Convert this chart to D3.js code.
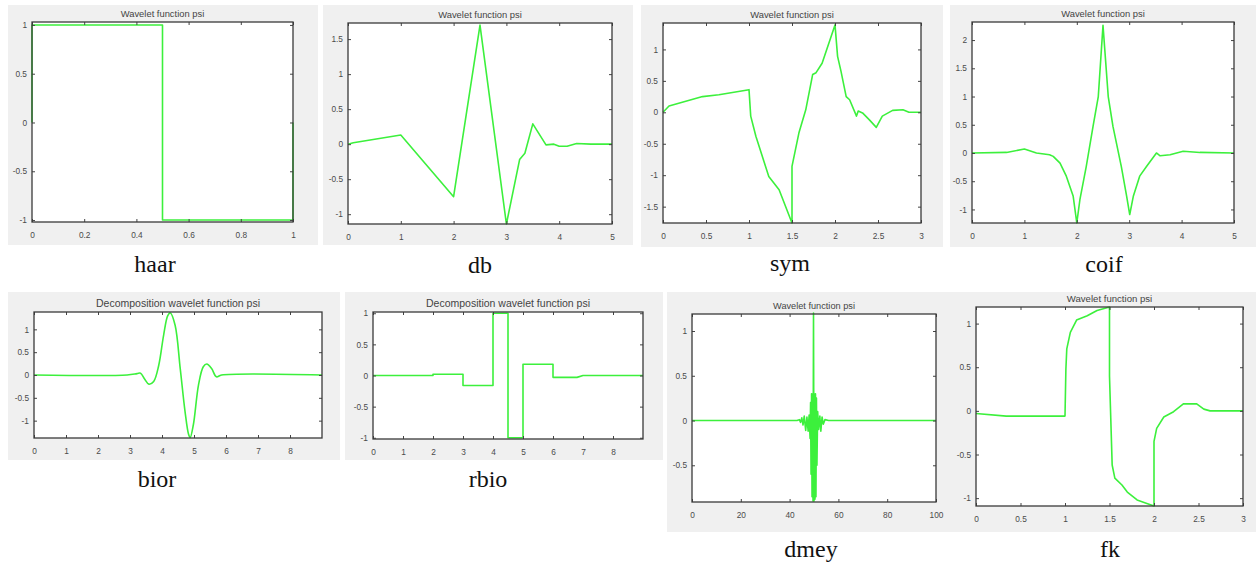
<!DOCTYPE html>
<html>
<head>
<meta charset="utf-8">
<script src="https://cdn.jsdelivr.net/npm/d3@7"></script>
<style>
html,body{margin:0;padding:0;background:#fff;}
svg{display:block;}
</style>
</head>
<body>
<svg id="chart" width="1256" height="564"></svg>
<script>
// ---------- DATA ----------
const captions = ["haar", "db", "sym", "coif", "bior", "rbio", "dmey", "fk"];
const titles = [
  "Wavelet function psi", "Wavelet function psi", "Wavelet function psi", "Wavelet function psi",
  "Decomposition wavelet function psi", "Decomposition wavelet function psi",
  "Wavelet function psi", "Wavelet function psi"
];

const haarPsi = [[0,0],[0,1],[0.5,1],[0.5,-1],[1,-1],[1,0]];
const dbPsi = [[0,0],[0.1,0.02],[1,0.13],[2,-0.75],[2.5,1.70],[3,-1.14],[3.25,-0.22],[3.35,-0.13],
  [3.5,0.29],[3.75,-0.01],[3.9,0.0],[4.0,-0.03],[4.15,-0.03],[4.33,0.01],[4.6,0.0],[5,0]];
const symPsi = [[0,0],[0.07,0.1],[0.46,0.25],[0.65,0.28],[1.0,0.36],[1.02,-0.06],[1.08,-0.38],
  [1.23,-1.02],[1.35,-1.23],[1.5,-1.76],[1.5,-0.86],[1.58,-0.33],[1.66,0.04],[1.74,0.6],[1.78,0.63],
  [1.85,0.78],[2.0,1.39],[2.03,0.89],[2.07,0.65],[2.13,0.25],[2.17,0.2],[2.25,-0.06],[2.27,0.02],
  [2.32,-0.01],[2.4,-0.12],[2.48,-0.24],[2.55,-0.06],[2.67,0.03],[2.79,0.04],[2.86,0],[3,0]];
const coifPsi = [[0,0],[0.66,0.01],[1.0,0.07],[1.23,0],[1.48,-0.03],[1.55,-0.06],[1.68,-0.18],
  [1.8,-0.41],[1.93,-0.76],[2.0,-1.24],[2.06,-0.82],[2.18,-0.24],[2.31,0.47],[2.41,1.0],[2.5,2.26],
  [2.6,1.0],[2.69,0.47],[2.85,-0.24],[2.95,-0.76],[3.01,-1.09],[3.08,-0.76],[3.2,-0.41],[3.33,-0.24],
  [3.52,0],[3.59,-0.05],[3.78,-0.03],[4.03,0.03],[4.35,0.01],[5,0]];
const biorPsi = [[0,0],[2.91,0],[3.22,0.03],[3.33,0.04],[3.45,-0.08],[3.59,-0.2],[3.74,-0.14],[3.9,0.22],
  [4.05,0.87],[4.18,1.3],[4.26,1.36],[4.41,1.09],[4.57,0.14],[4.72,-0.8],[4.83,-1.3],[4.88,-1.37],
  [4.98,-1.09],[5.14,-0.22],[5.29,0.18],[5.4,0.24],[5.55,0.14],[5.7,-0.04],[5.86,0],[9,0]];
const rbioPsi = [[0,0],[2,0],[2,0.02],[3,0.02],[3,-0.16],[4,-0.16],[4,1.0],[4.5,1.0],[4.5,-1.0],
  [5,-1.0],[5,0.18],[6,0.18],[6,-0.03],[6.8,-0.03],[7,0],[9,0]];
const dmeyPsi = [[0,0],[43,0],[44,0.01],[44.5,-0.02],[45,0.03],[45.5,-0.05],[46,0.05],[46.6,-0.11],
  [47.1,0.04],[47.6,-0.12],[48.0,0.06],[48.4,-0.2],[48.6,0.2],[48.8,-0.6],[49.0,0.3],[49.2,-0.85],
  [49.4,0.3],[49.6,-0.9],[49.8,1.2],[50.0,-0.9],[50.2,0.3],[50.4,-0.88],[50.6,0.3],[50.8,-0.85],
  [51.0,0.25],[51.2,-0.5],[51.5,0.1],[51.9,-0.1],[52.4,0.05],[52.8,-0.12],[53.3,0.04],[53.8,-0.04],
  [54.5,0.01],[56,0],[100,0]];
const fkPsi = [[0,-0.03],[0.34,-0.06],[1.0,-0.06],[1.01,0.48],[1.02,0.71],[1.06,0.9],[1.13,1.04],
  [1.25,1.09],[1.36,1.15],[1.5,1.19],[1.5,0.4],[1.53,-0.62],[1.56,-0.77],[1.64,-0.85],[1.7,-0.93],
  [1.81,-1.02],[1.92,-1.06],[2.0,-1.09],[2.0,-0.35],[2.03,-0.2],[2.11,-0.07],[2.22,-0.01],[2.33,0.08],
  [2.48,0.08],[2.56,0.02],[2.63,0],[3,0]];

const haarXTicks = [0,0.2,0.4,0.6,0.8,1], haarYTicks = [-1,-0.5,0,0.5,1];
const dbXTicks = [0,1,2,3,4,5], dbYTicks = [-1,-0.5,0,0.5,1,1.5];
const symXTicks = [0,0.5,1,1.5,2,2.5,3], symYTicks = [-1.5,-1,-0.5,0,0.5,1];
const coifXTicks = [0,1,2,3,4,5], coifYTicks = [-1,-0.5,0,0.5,1,1.5,2];
const biorXTicks = [0,1,2,3,4,5,6,7,8], biorYTicks = [-1,-0.5,0,0.5,1];
const rbioXTicks = [0,1,2,3,4,5,6,7,8], rbioYTicks = [-1,-0.5,0,0.5,1];
const dmeyXTicks = [0,20,40,60,80,100], dmeyYTicks = [-0.5,0,0.5,1];
const fkXTicks = [0,0.5,1,1.5,2,2.5,3], fkYTicks = [-1,-0.5,0,0.5,1];

const xDomains = [[0,1],[0,5],[0,3],[0,5],[0,9],[0,9],[0,100],[0,3]];
const yDomains = [[-1.02,1.03],[-1.14,1.73],[-1.76,1.42],[-1.24,2.32],[-1.38,1.38],[-1.02,1.02],[-0.91,1.19],[-1.09,1.19]];

// ---------- LAYOUT ----------
const series = [haarPsi, dbPsi, symPsi, coifPsi, biorPsi, rbioPsi, dmeyPsi, fkPsi];
const xTicks = [haarXTicks, dbXTicks, symXTicks, coifXTicks, biorXTicks, rbioXTicks, dmeyXTicks, fkXTicks];
const yTicks = [haarYTicks, dbYTicks, symYTicks, coifYTicks, biorYTicks, rbioYTicks, dmeyYTicks, fkYTicks];
const layout = [
  {panel:[8,5,310,240],   plot:[32,22,293,222],   cap:[155,272], tsize:9.4},
  {panel:[323,5,310,240], plot:[348,23,612,224],  cap:[480,273], tsize:9.4},
  {panel:[641,5,302,242], plot:[663,23,921,223],  cap:[790,271], tsize:9.4},
  {panel:[950,5,306,242], plot:[972,22,1234,223], cap:[1104,272], tsize:9.4},
  {panel:[8,292,332,168], plot:[34,312,322,438],  cap:[157,487], tsize:10.5},
  {panel:[345,292,318,168],plot:[373,312,643,439],cap:[488,487], tsize:10.5},
  {panel:[667,292,290,240],plot:[692,314,936,502],cap:[811,557], tsize:9.2},
  {panel:[953,292,303,240],plot:[976,307,1243,506],cap:[1110,557], tsize:9.6}
];
const smooth = [false,false,false,false,true,false,false,false];

const svg = d3.select("#chart");
const fmt = d => String(d);

layout.forEach((L, i) => {
  const [px, py, pw, ph] = L.panel;
  svg.append("rect").attr("x", px).attr("y", py).attr("width", pw).attr("height", ph)
    .attr("fill", "#f0f0f0");
  const [x0, y0, x1, y1] = L.plot;
  const x = d3.scaleLinear().domain(xDomains[i]).range([x0, x1]);
  const y = d3.scaleLinear().domain(yDomains[i]).range([y1, y0]);

  svg.append("rect").attr("x", x0).attr("y", y0).attr("width", x1 - x0).attr("height", y1 - y0)
    .attr("fill", "#fff");

  const line = d3.line().x(d => x(d[0])).y(d => y(d[1]))
    .curve(smooth[i] ? d3.curveCatmullRom.alpha(0.5) : d3.curveLinear);
  svg.append("path").datum(series[i]).attr("d", line)
    .attr("fill", "none").attr("stroke", "#3cf03c").attr("stroke-width", 1.6)
    .attr("stroke-linejoin", "round");

  const styleAxis = g => {
    g.select(".domain").remove();
    g.selectAll(".tick line").attr("stroke", "#444").attr("stroke-width", 1);
    g.selectAll(".tick text").attr("fill", "#4a4a4a").attr("font-size", 8.3)
      .attr("font-family", "Liberation Sans, Arial, sans-serif");
  };
  svg.append("g").attr("transform", `translate(0,${y1})`)
    .call(d3.axisBottom(x).tickValues(xTicks[i]).tickFormat(fmt).tickSize(-3).tickPadding(10))
    .call(styleAxis);
  svg.append("g").attr("transform", `translate(0,${y0})`)
    .call(d3.axisTop(x).tickValues(xTicks[i]).tickFormat("").tickSize(-3))
    .call(styleAxis);
  svg.append("g").attr("transform", `translate(${x0},0)`)
    .call(d3.axisLeft(y).tickValues(yTicks[i]).tickFormat(fmt).tickSize(-3).tickPadding(5))
    .call(styleAxis);
  svg.append("g").attr("transform", `translate(${x1},0)`)
    .call(d3.axisRight(y).tickValues(yTicks[i]).tickFormat("").tickSize(-3))
    .call(styleAxis);

  svg.append("rect").attr("x", x0).attr("y", y0).attr("width", x1 - x0).attr("height", y1 - y0)
    .attr("fill", "none").attr("stroke", "#3a3a3a").attr("stroke-width", 1.3);

  svg.append("text").attr("x", (x0 + x1) / 2).attr("y", y0 - 5)
    .attr("text-anchor", "middle").attr("font-size", L.tsize).attr("fill", "#444")
    .attr("font-family", "Liberation Sans, Arial, sans-serif").text(titles[i]);

  svg.append("text").attr("x", L.cap[0]).attr("y", L.cap[1])
    .attr("text-anchor", "middle").attr("font-size", 24).attr("fill", "#111")
    .attr("font-family", "Liberation Serif, Times New Roman, serif").text(captions[i]);
});
</script>
</body>
</html>
